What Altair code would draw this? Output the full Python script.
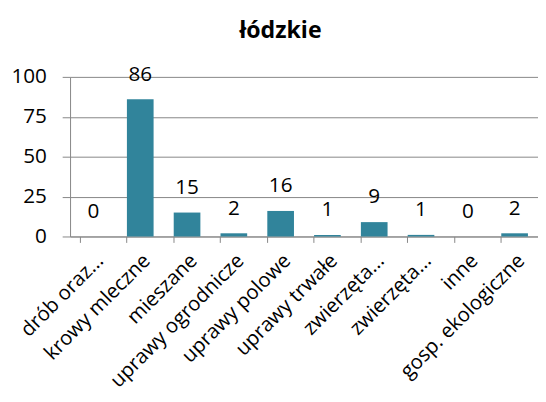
import altair as alt
import pandas as pd

categories = ["drób oraz...", "krowy mleczne", "mieszane", "uprawy ogrodnicze",
              "uprawy polowe", "uprawy trwałe", "zwierzęta...", "zwierzęta... ",
              "inne", "gosp. ekologiczne"]
values = [0, 86, 15, 2, 16, 1, 9, 1, 0, 2]
y_ticks = [0, 25, 50, 75, 100]

df = pd.DataFrame({"cat": categories, "val": values})

FONT = "Open Sans"
x = alt.X("cat:N", sort=categories, title=None,
          scale=alt.Scale(paddingInner=0.43, paddingOuter=0.215),
          axis=alt.Axis(labelAngle=-45, labelFontSize=20.5, labelFont=FONT, labelColor="#000000",
                        domainColor="#868686", tickColor="#868686", tickSize=6,
                        bandPosition=0, labelPadding=8, grid=False, labelLimit=400))
y = alt.Y("val:Q", title=None,
          scale=alt.Scale(domain=[0, 100]),
          axis=alt.Axis(values=y_ticks, labelFontSize=21, labelFont=FONT, labelColor="#000000",
                        domainColor="#868686", tickColor="#868686", tickSize=8,
                        gridColor="#868686", labelPadding=16))

bars = alt.Chart(df).mark_bar(color="#31849B").encode(x=x, y=y)
labels = alt.Chart(df).mark_text(fontSize=21, font=FONT, dy=-25, color="#000000").encode(
    x=alt.X("cat:N", sort=categories), y="val:Q", text="val:Q")

chart = (bars + labels).properties(
    width=475, height=162,
    title=alt.TitleParams("łódzkie", fontSize=23.5, font=FONT, fontWeight="bold", color="#000000",
                          anchor="middle", frame="group", offset=22, dx=-24),
    autosize=alt.AutoSizeParams(type="none"),
    padding={"left": 63, "top": 67, "right": 0, "bottom": 160},
).configure_view(stroke=None)

chart.save("out.html", embed_options={"renderer": "svg", "actions": False})
